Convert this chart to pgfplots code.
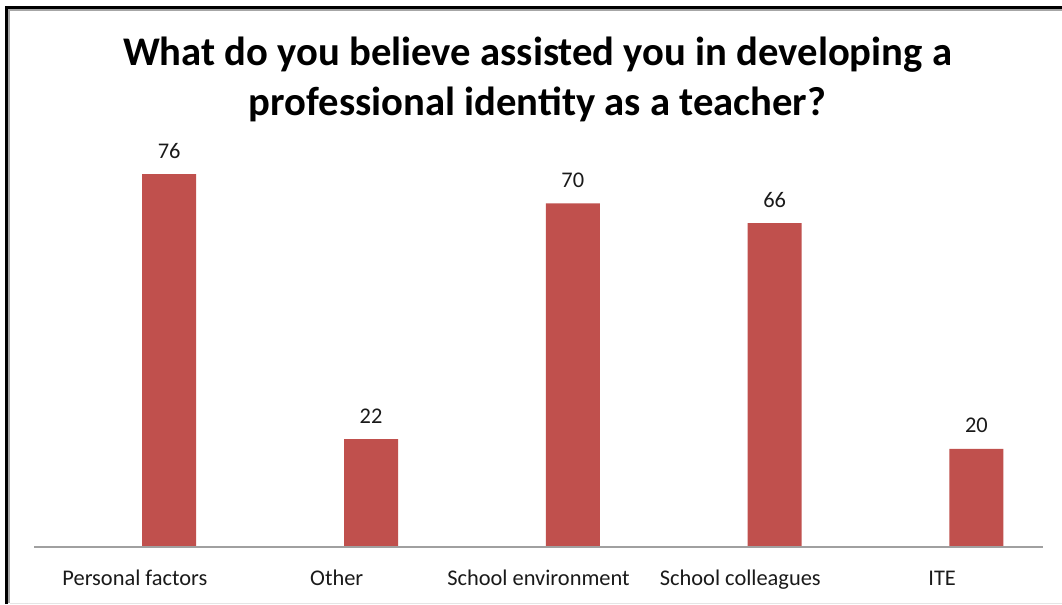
\documentclass[border=0pt]{standalone}
\usepackage{pgfplots}
\pgfplotsset{compat=1.18}
\usepackage{fontspec}
\setmainfont{Carlito}
\definecolor{barred}{HTML}{C0504D}
\definecolor{axgray}{HTML}{A0A0A0}
\definecolor{txt}{HTML}{1A1A1A}
\begin{document}
\begin{tikzpicture}
% bounding box: image px (X,Y) -> ((X-34)*0.75pt, (547-Y)*0.75pt)
\useasboundingbox (-25.5pt,-42.75pt) rectangle (771pt,410.25pt);
\fill[white] (-25.5pt,-42.75pt) rectangle (771pt,410.25pt);
% frame
\draw[black, line width=1.6pt] (-20.6pt,-42.75pt) -- (-20.6pt,404.6pt) -- (771pt,404.6pt);
\draw[gray!70, line width=1.3pt] (-18.8pt,-42pt) -- (-18.8pt,402.8pt) -- (771pt,402.8pt);
\draw[gray!20, line width=0.8pt] (-18pt,-42.1pt) -- (771pt,-42.1pt);
\begin{axis}[
  at={(0,0)}, anchor=south west,
  scale only axis,
  width=756.75pt, height=294.45pt,
  xmin=-0.5, xmax=4.5, ymin=0, ymax=80,
  axis x line*=bottom,
  axis y line=none,
  x axis line style={draw=none},
  xtick={0,1,2,3,4},
  xticklabels={Personal factors, Other, School environment, School colleagues, ITE},
  major tick length=0pt,
  xticklabel style={anchor=base, yshift=-28.5pt, font=\fontsize{16.8pt}{19pt}\selectfont, text=txt, inner sep=0pt},
  ybar, bar width=40.5pt, bar shift=0pt,
  /pgf/number format/assume math mode=true,
  nodes near coords,
  every node near coord/.append style={anchor=base, yshift=12pt, inner sep=0pt, font=\fontsize{16.8pt}{19pt}\selectfont, text=txt},
  clip=false,
]
\addplot[fill=barred, draw=none] coordinates {
  (0.17,76) (1.17,22) (2.17,70) (3.17,66) (4.17,20)
};
\end{axis}
\draw[axgray, line width=0.9pt] (0pt,0pt) -- (756.75pt,0pt);
\node[anchor=base, font=\fontsize{30.5pt}{36pt}\bfseries, text=black, inner sep=0pt] at (377.6pt,360.75pt) {What do you believe assisted you in developing a};
\node[anchor=base, font=\fontsize{30.5pt}{36pt}\bfseries, text=black, inner sep=0pt] at (377.6pt,323.25pt) {professional identity as a teacher?};
\end{tikzpicture}
\end{document}
